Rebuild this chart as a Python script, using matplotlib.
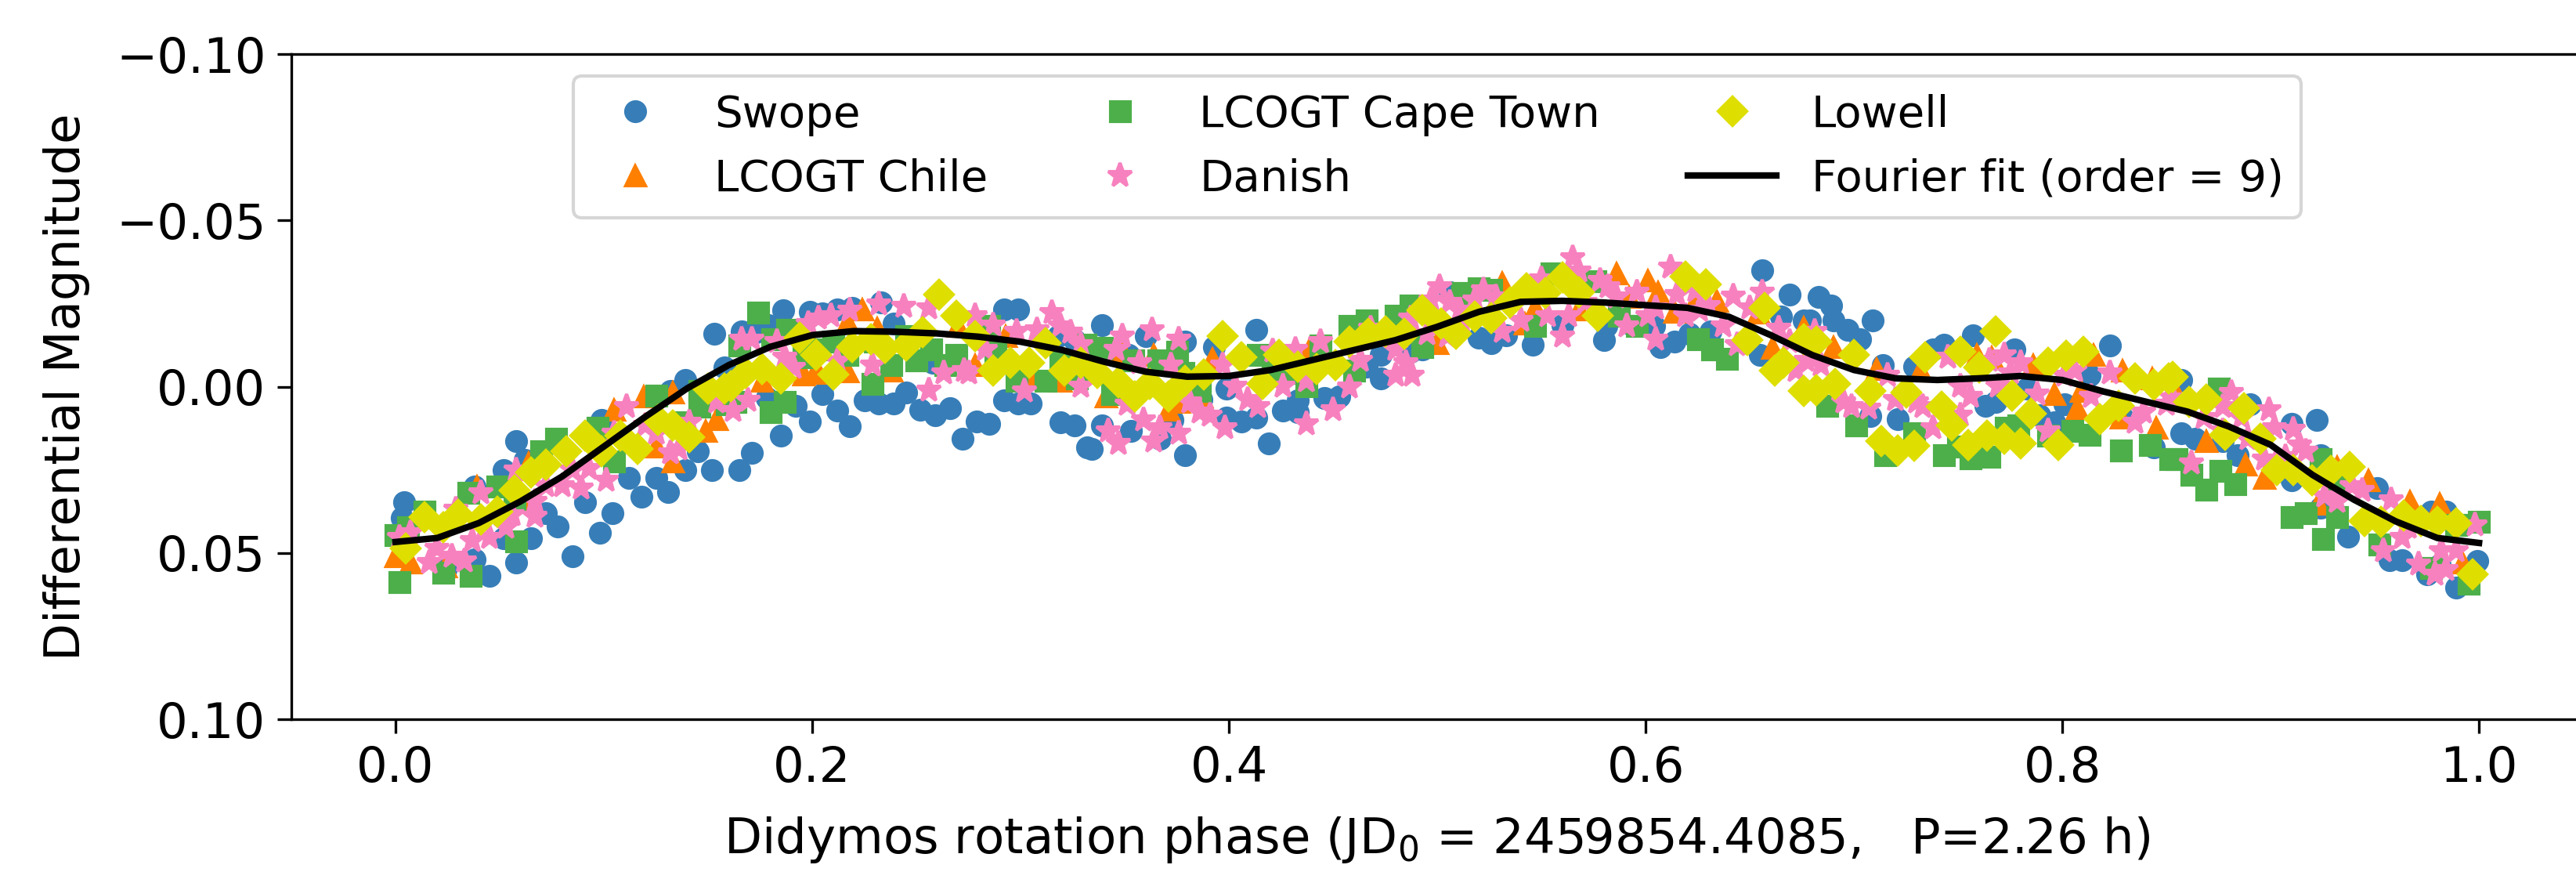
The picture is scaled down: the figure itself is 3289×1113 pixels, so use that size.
import matplotlib.pyplot as plt

# Didymos lightcurve, folded on the rotation period
# values (phase, differential magnitude)

swope_phase = [0.003, 0.004, 0.024, 0.038, 0.038, 0.045, 0.052, 0.052, 0.058, 0.058,
               0.062, 0.065, 0.072, 0.078, 0.085, 0.091, 0.098, 0.099, 0.104, 0.112,
               0.118, 0.125, 0.131, 0.132, 0.139, 0.139, 0.145, 0.152, 0.153, 0.158,
               0.165, 0.166, 0.171, 0.173, 0.178, 0.179, 0.185, 0.186, 0.192, 0.199,
               0.199, 0.205, 0.205, 0.212, 0.212, 0.218, 0.219, 0.225, 0.232, 0.233,
               0.239, 0.239, 0.245, 0.252, 0.258, 0.259, 0.266, 0.272, 0.279, 0.285,
               0.292, 0.292, 0.299, 0.299, 0.305, 0.318, 0.319, 0.326, 0.326, 0.332,
               0.334, 0.339, 0.339, 0.352, 0.353, 0.360, 0.367, 0.373, 0.379, 0.379,
               0.387, 0.393, 0.399, 0.399, 0.406, 0.413, 0.413, 0.419, 0.426, 0.433,
               0.433, 0.446, 0.453, 0.466, 0.473, 0.473, 0.487, 0.493, 0.506, 0.507,
               0.520, 0.526, 0.533, 0.546, 0.560, 0.580, 0.581, 0.594, 0.604, 0.607,
               0.614, 0.621, 0.631, 0.655, 0.656, 0.665, 0.669, 0.676, 0.679, 0.683,
               0.689, 0.690, 0.697, 0.703, 0.708, 0.709, 0.714, 0.721, 0.729, 0.738,
               0.743, 0.757, 0.763, 0.768, 0.777, 0.783, 0.789, 0.796, 0.801, 0.813,
               0.823, 0.829, 0.844, 0.857, 0.857, 0.864, 0.877, 0.884, 0.890, 0.910,
               0.910, 0.922, 0.924, 0.924, 0.937, 0.951, 0.957, 0.963, 0.975, 0.977,
               0.981, 0.984, 0.989, 0.999]
swope_mag = [0.0395, 0.0348, 0.055, 0.052, 0.030, 0.057, 0.025, 0.0455, 0.0164, 0.053,
             0.022, 0.0455, 0.038, 0.042, 0.051, 0.0348, 0.044, 0.010, 0.038, 0.0274,
             0.033, 0.0274, 0.0317, 0.0014, 0.025, -0.002, 0.0195, 0.025, -0.0159, -0.0057,
             0.025, -0.0167, 0.0199, -0.0163, 0.0034, -0.0186, 0.0148, -0.023, 0.0057, 0.0105,
             -0.0226, 0.0022, -0.022, 0.0073, -0.0233, 0.012, -0.0237, 0.0042, 0.005, -0.0253,
             0.005, -0.019, 0.0018, 0.0069, -0.0072, 0.0085, 0.0065, 0.0156, 0.0105, 0.0112,
             0.0042, -0.0233, 0.005, -0.0233, 0.005, -0.0151, 0.0108, 0.0116, -0.0139, 0.0183,
             0.0187, -0.0186, 0.0116, -0.0096, 0.0132, -0.0151, 0.0156, 0.0101, -0.0135, 0.0207,
             0.0038, -0.012, 0.0093, 0.0006, 0.0105, 0.0093, -0.0171, 0.0171, 0.0073, 0.0042,
             0.0077, 0.0034, 0.003, -0.0061, -0.0025, -0.0096, -0.0104, -0.0112, -0.0285, -0.0281,
             -0.0147, -0.0131, -0.0155, -0.0127, -0.0186, -0.0139, -0.0182, -0.0182, -0.0182, -0.012,
             -0.0135, -0.0159, -0.0167, -0.0096, -0.0351, -0.021, -0.0277, -0.0198, -0.0198, -0.0269,
             -0.0245, -0.0198, -0.0171, -0.0143, 0.0089, -0.0198, -0.0064, 0.0097, -0.0061, -0.0112,
             -0.0127, -0.0155, 0.0057, 0.0046, -0.0112, 0.0006, 0.0085, 0.0108, 0.0053, -0.0033,
             -0.0123, 0.0093, 0.0183, -0.0021, 0.014, 0.0156, 0.0164, 0.0207, 0.0053, 0.0112,
             0.0281, 0.0101, 0.0207, 0.0364, 0.045, 0.0305, 0.0521, 0.0521, 0.0564, 0.0376,
             0.0537, 0.0376, 0.0604, 0.0525]

chile_phase = [0.000, 0.007, 0.024, 0.039, 0.062, 0.064, 0.105, 0.119, 0.125, 0.133,
               0.133, 0.149, 0.154, 0.176, 0.196, 0.2015, 0.203, 0.217, 0.217, 0.224,
               0.231, 0.238, 0.270, 0.278, 0.293, 0.305, 0.319, 0.341, 0.349, 0.364,
               0.371, 0.376, 0.387, 0.392, 0.439, 0.500, 0.531, 0.542, 0.547, 0.568,
               0.586, 0.592, 0.601, 0.606, 0.614, 0.624, 0.634, 0.654, 0.661, 0.676,
               0.690, 0.711, 0.732, 0.759, 0.766, 0.786, 0.796, 0.807, 0.809, 0.815,
               0.828, 0.829, 0.843, 0.845, 0.855, 0.869, 0.888, 0.897, 0.923, 0.932,
               0.947, 0.967, 0.981, 0.992]
chile_mag = [0.051, 0.053, 0.054, 0.030, 0.034, 0.023, 0.007, 0.003, 0.018, 0.0018,
             0.0226, 0.0132, 0.0097, -0.0017, -0.0037, -0.0045, -0.0041, -0.0045, -0.0194, -0.0233,
             -0.0175, -0.0049, -0.0182, -0.0064, -0.0151, -0.0025, -0.0017, 0.003, -0.0108, -0.0096,
             0.0069, 0.0046, 0.003, -0.0084, -0.0116, -0.0131, -0.0312, -0.019, -0.0237, -0.0233,
             -0.034, -0.0269, -0.032, -0.0285, -0.0226, -0.0261, -0.0257, -0.0222, -0.0116, -0.0178,
             -0.012, -0.0053, -0.0049, -0.0096, -0.0088, -0.0064, 0.0022, 0.0065, 0.0014, -0.0096,
             0.0093, -0.0049, -0.0025, 0.0124, 0.0022, 0.0164, 0.0234, 0.0274, 0.0352, 0.0242,
             0.0281, 0.0344, 0.0352, 0.0529]

cape_phase = [0.000, 0.002, 0.006, 0.014, 0.023, 0.035, 0.036, 0.049, 0.057, 0.058,
              0.070, 0.077, 0.097, 0.105, 0.125, 0.138, 0.146, 0.146, 0.159, 0.163,
              0.165, 0.174, 0.180, 0.181, 0.187, 0.188, 0.196, 0.203, 0.210, 0.217,
              0.229, 0.230, 0.238, 0.245, 0.250, 0.257, 0.264, 0.269, 0.285, 0.288,
              0.298, 0.312, 0.319, 0.327, 0.331, 0.339, 0.344, 0.354, 0.366, 0.375,
              0.378, 0.386, 0.414, 0.421, 0.431, 0.437, 0.444, 0.458, 0.460, 0.466,
              0.480, 0.487, 0.493, 0.512, 0.520, 0.526, 0.547, 0.555, 0.576, 0.587,
              0.596, 0.625, 0.632, 0.639, 0.687, 0.701, 0.715, 0.729, 0.743, 0.750,
              0.756, 0.765, 0.773, 0.779, 0.793, 0.805, 0.813, 0.828, 0.842, 0.852,
              0.855, 0.862, 0.869, 0.875, 0.876, 0.883, 0.910, 0.917, 0.924, 0.925,
              0.932, 0.932, 0.952, 0.977, 0.989, 0.995, 1.000]
cape_mag = [0.0447, 0.0588, 0.0423, 0.0376, 0.056, 0.032, 0.057, 0.030, 0.0344, 0.0466,
            0.0195, 0.0156, 0.0124, 0.0226, 0.0026, 0.0108, 0.0014, 0.006, 0.0053, 0.0046,
            -0.0123, -0.0222, 0.0077, -0.0143, 0.0046, -0.0171, -0.0088, -0.0112, -0.0135, -0.0096,
            -0.0009, -0.0135, -0.0064, -0.0151, -0.008, -0.0112, -0.0064, -0.0096, -0.0182, -0.0104,
            -0.0017, -0.0017, -0.008, -0.0025, -0.0127, -0.0116, 0.0022, -0.008, -0.008, -0.0104,
            -0.0041, 0.0014, -0.0096, -0.0049, -0.0041, -0.0002, -0.0123, -0.0182, -0.0049, -0.0198,
            -0.0214, -0.0245, -0.012, -0.0281, -0.0296, -0.0292, -0.0182, -0.034, -0.0316, -0.0214,
            -0.0182, -0.0143, -0.0112, -0.0084, 0.0057, 0.0116, 0.0207, 0.014, 0.0207, 0.018,
            0.0215, 0.0211, 0.0124, 0.0116, 0.0148, 0.0132, 0.0144, 0.0191, 0.0175, 0.0219,
            0.0219, 0.0266, 0.0309, 0.0006, 0.0254, 0.0293, 0.0392, 0.038, 0.0219, 0.0458,
            0.0392, 0.0297, 0.0474, 0.0545, 0.0415, 0.0592, 0.0407]

danish_phase = [0.002, 0.007, 0.016, 0.020, 0.027, 0.029, 0.033, 0.037, 0.041, 0.045,
                0.053, 0.056, 0.058, 0.067, 0.067, 0.072, 0.080, 0.085, 0.089, 0.093,
                0.101, 0.105, 0.111, 0.120, 0.125, 0.132, 0.136, 0.141, 0.154, 0.162,
                0.166, 0.169, 0.171, 0.183, 0.187, 0.191, 0.198, 0.203, 0.209, 0.212,
                0.218, 0.229, 0.232, 0.244, 0.256, 0.256, 0.263, 0.273, 0.275, 0.278,
                0.283, 0.287, 0.298, 0.302, 0.308, 0.315, 0.319, 0.324, 0.329, 0.329,
                0.342, 0.346, 0.347, 0.349, 0.351, 0.357, 0.359, 0.363, 0.364, 0.367,
                0.372, 0.376, 0.376, 0.381, 0.386, 0.391, 0.397, 0.398, 0.403, 0.409,
                0.414, 0.421, 0.426, 0.432, 0.437, 0.437, 0.444, 0.450, 0.458, 0.463,
                0.468, 0.480, 0.480, 0.485, 0.487, 0.488, 0.495, 0.497, 0.501, 0.505,
                0.506, 0.511, 0.512, 0.518, 0.522, 0.528, 0.531, 0.540, 0.550, 0.553,
                0.560, 0.563, 0.565, 0.568, 0.571, 0.578, 0.582, 0.586, 0.591, 0.596,
                0.601, 0.605, 0.605, 0.612, 0.615, 0.619, 0.624, 0.626, 0.630, 0.637,
                0.642, 0.644, 0.650, 0.656, 0.664, 0.669, 0.672, 0.677, 0.681, 0.684,
                0.695, 0.699, 0.707, 0.716, 0.720, 0.730, 0.733, 0.738, 0.745, 0.751,
                0.751, 0.756, 0.765, 0.769, 0.772, 0.775, 0.780, 0.788, 0.793, 0.801,
                0.806, 0.814, 0.823, 0.835, 0.839, 0.850, 0.853, 0.862, 0.868, 0.877,
                0.877, 0.881, 0.886, 0.889, 0.897, 0.899, 0.902, 0.907, 0.911, 0.914,
                0.917, 0.926, 0.932, 0.939, 0.944, 0.954, 0.958, 0.963, 0.966, 0.971,
                0.979, 0.982, 0.984, 0.989, 0.998]
danish_mag = [0.0454, 0.0439, 0.053, 0.0486, 0.051, 0.0368, 0.0525, 0.0462, 0.032, 0.0454,
              0.0423, 0.0384, 0.025, 0.0344, 0.039, 0.0297, 0.0297, 0.025, 0.0305, 0.0246,
              0.0281, 0.014, 0.006, 0.0116, 0.014, 0.020, 0.0187, 0.0108, 0.0046, 0.0073,
              -0.0143, 0.0042, -0.0143, -0.0135, -0.0088, -0.0057, -0.019, -0.0206, -0.0214, -0.0076,
              -0.023, -0.0064, -0.0249, -0.0241, -0.0237, 0.001, -0.0041, -0.0049, -0.0041, -0.0214,
              -0.0112, -0.0186, -0.0167, 0.0014, -0.0171, -0.0222, -0.0182, -0.0163, -0.0127, -0.0002,
              0.0132, -0.0112, 0.0171, -0.0151, 0.0053, -0.0072, 0.0101, -0.0171, 0.0164, 0.0124,
              -0.0064, -0.0143, 0.014, 0.0046, 0.0077, 0.0085, -0.0064, 0.0124, -0.0002, 0.0038,
              0.0061, -0.0108, -0.0002, -0.0112, -0.0017, 0.0112, -0.0135, 0.0069, 0.0002, -0.008,
              -0.0175, -0.0112, -0.0033, -0.0072, -0.0206, -0.0033, -0.0159, -0.0261, -0.030, -0.0151,
              -0.0253, -0.023, -0.019, -0.0261, -0.0292, -0.0269, -0.0167, -0.0198, -0.0324, -0.0214,
              -0.0151, -0.0214, -0.0387, -0.0347, -0.0253, -0.032, -0.030, -0.0269, -0.0182, -0.0285,
              -0.0214, -0.0143, -0.0237, -0.0359, -0.0277, -0.0214, -0.0289, -0.023, -0.0245, -0.0182,
              -0.0273, -0.0127, -0.0237, -0.0285, -0.0175, -0.0135, -0.0049, -0.008, -0.0167, -0.0064,
              0.0046, 0.0061, 0.0065, -0.0033, 0.0038, 0.0046, 0.0061, 0.0124, -0.0088, -0.0002,
              0.0085, 0.003, -0.008, -0.0002, -0.0096, -0.0041, -0.0072, 0.0022, 0.0132, -0.0033,
              -0.0049, 0.003, -0.0041, 0.0108, 0.0077, 0.0053, 0.0034, 0.023, 0.0093, 0.0132,
              0.0061, 0.0018, 0.0093, 0.0156, 0.0219, 0.0069, 0.0124, 0.0211, 0.0128, 0.0175,
              0.0195, 0.0329, 0.0344, 0.0297, 0.0313, 0.0494, 0.034, 0.0454, 0.0423, 0.0533,
              0.0564, 0.0494, 0.0549, 0.0494, 0.0415]

lowell_phase = [0.005, 0.014, 0.023, 0.030, 0.041, 0.049, 0.057, 0.065, 0.072, 0.082,
                0.091, 0.099, 0.108, 0.116, 0.126, 0.133, 0.141, 0.150, 0.158, 0.161,
                0.168, 0.176, 0.185, 0.194, 0.202, 0.210, 0.219, 0.228, 0.235, 0.245,
                0.253, 0.261, 0.269, 0.278, 0.287, 0.295, 0.304, 0.312, 0.321, 0.329,
                0.337, 0.347, 0.355, 0.362, 0.371, 0.379, 0.388, 0.397, 0.406, 0.416,
                0.424, 0.433, 0.442, 0.451, 0.458, 0.467, 0.475, 0.484, 0.493, 0.502,
                0.509, 0.518, 0.526, 0.535, 0.543, 0.552, 0.560, 0.568, 0.577, 0.619,
                0.629, 0.649, 0.657, 0.662, 0.666, 0.676, 0.676, 0.682, 0.682, 0.691,
                0.700, 0.708, 0.713, 0.721, 0.725, 0.729, 0.734, 0.742, 0.747, 0.751,
                0.755, 0.760, 0.764, 0.768, 0.772, 0.776, 0.780, 0.785, 0.793, 0.798,
                0.802, 0.810, 0.818, 0.827, 0.835, 0.844, 0.851, 0.853, 0.861, 0.869,
                0.878, 0.887, 0.895, 0.903, 0.911, 0.920, 0.929, 0.938, 0.945, 0.953,
                0.964, 0.972, 0.980, 0.989, 0.997]
lowell_mag = [0.0486, 0.0392, 0.0423, 0.0384, 0.040, 0.0376, 0.0313, 0.0258, 0.0234, 0.0195,
              0.0148, 0.0195, 0.0148, 0.0187, 0.0101, 0.0116, 0.0152, 0.0006, 0.0006, -0.0002,
              -0.0041, -0.0053, -0.0025, -0.0147, -0.0096, -0.0037, -0.012, -0.0143, -0.0116, -0.0123,
              -0.0163, -0.0277, -0.0214, -0.0151, -0.0049, -0.0072, -0.0072, -0.0131, -0.0049, -0.0072,
              -0.0041, -0.0013, 0.003, -0.0009, 0.003, -0.0017, -0.0037, -0.0151, -0.0088, -0.0009,
              -0.0096, -0.0061, -0.0053, -0.0064, -0.0135, -0.0159, -0.0167, -0.0159, -0.023, -0.019,
              -0.0159, -0.021, -0.0206, -0.0253, -0.0296, -0.0281, -0.0328, -0.0285, -0.0214, -0.0332,
              -0.0308, -0.0139, -0.0237, -0.0049, -0.0072, 0.0014, -0.0143, -0.0135, 0.001, -0.0009,
              -0.0096, 0.0014, 0.0164, 0.0191, 0.0018, 0.0179, -0.0088, 0.0061, 0.0116, -0.0104,
              0.0175, -0.0057, 0.0148, -0.0167, 0.0156, 0.0026, 0.0171, 0.0081, -0.0072, 0.0175,
              -0.0092, -0.0104, 0.0097, 0.0057, -0.0025, -0.0006, -0.0025, -0.0029, 0.0046, 0.0038,
              0.0144, 0.0065, 0.0156, 0.025, 0.025, 0.0281, 0.0254, 0.0242, 0.0403, 0.0407,
              0.0388, 0.0403, 0.0407, 0.0411, 0.0564]

# Fourier fit (order 9), sampled along the drawn curve
fit_phase = [0.00, 0.02, 0.04, 0.06, 0.08, 0.10, 0.12, 0.14, 0.16, 0.18,
             0.20, 0.22, 0.24, 0.26, 0.28, 0.30, 0.32, 0.34, 0.36, 0.38,
             0.40, 0.42, 0.44, 0.46, 0.48, 0.50, 0.52, 0.54, 0.56, 0.58,
             0.60, 0.62, 0.64, 0.66, 0.68, 0.70, 0.72, 0.74, 0.76, 0.78,
             0.80, 0.82, 0.84, 0.86, 0.88, 0.90, 0.92, 0.94, 0.96, 0.98, 1.00]
fit_mag = [0.0467, 0.0455, 0.041, 0.0345, 0.027, 0.018, 0.009, 0.0005, -0.0065, -0.012,
           -0.0155, -0.0167, -0.0165, -0.016, -0.015, -0.0135, -0.011, -0.0075, -0.0045, -0.003,
           -0.0032, -0.005, -0.008, -0.011, -0.014, -0.018, -0.0225, -0.0255, -0.0258, -0.0253,
           -0.0245, -0.0237, -0.021, -0.0155, -0.0095, -0.005, -0.0025, -0.002, -0.0025, -0.0032,
           -0.002, 0.0015, 0.0045, 0.0075, 0.012, 0.0175, 0.0265, 0.034, 0.0405, 0.0455, 0.047]

series = [
    ('Swope', swope_phase, swope_mag, 'o', '#377eb8', 6),
    ('LCOGT Chile', chile_phase, chile_mag, '^', '#ff7f00', 6),
    ('LCOGT Cape Town', cape_phase, cape_mag, 's', '#4daf4a', 6),
    ('Danish', danish_phase, danish_mag, '*', '#f781bf', 7.5),
    ('Lowell', lowell_phase, lowell_mag, 'D', '#dede00', 6),
]

fig = plt.figure(figsize=(3289 / 300, 1113 / 300), dpi=300)
ax = fig.add_axes([0.1131, 0.1752, 0.8897, 0.7628])

for name, ph, mag, mk, col, size in series:
    ax.plot(ph, mag, linestyle='none', marker=mk, ms=size, color=col, label=name)
ax.plot(fit_phase, fit_mag, 'k', linewidth=2, label='Fourier fit (order = 9)')

ax.set_xlim(-0.05, 1.05)
ax.set_ylim(0.10, -0.10)
ax.set_yticks([-0.10, -0.05, 0.00, 0.05, 0.10])
ax.set_xticks([0.0, 0.2, 0.4, 0.6, 0.8, 1.0])
ax.tick_params(labelsize=15, length=4.3)

ax.set_xlabel(r'Didymos rotation phase (JD$_0$ = 2459854.4085,   P=2.26 h)',
              fontsize=15, labelpad=7)
ax.set_ylabel('Differential Magnitude', fontsize=15, labelpad=8)
ax.legend(ncol=3, loc='upper center', fontsize=13.5)

fig.savefig('out.png', dpi=300)
